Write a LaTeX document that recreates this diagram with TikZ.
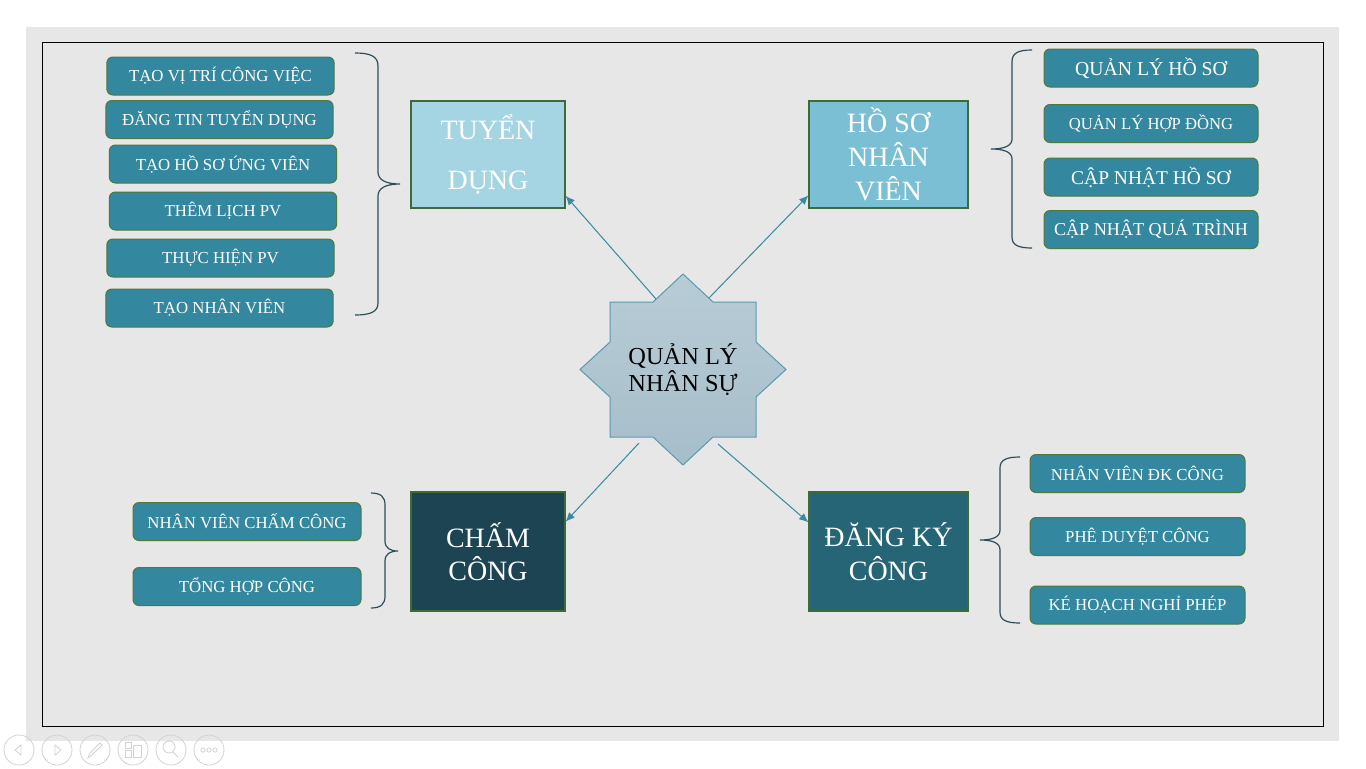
\documentclass[tikz,border=0pt]{standalone}
\usepackage{fontspec}
\setmainfont{Liberation Serif}
\usepackage{xcolor}
\usetikzlibrary{arrows.meta}
\definecolor{CE7E7E7}{HTML}{E7E7E7}
\definecolor{C33879E}{HTML}{33879E}
\definecolor{C4E7A3C}{HTML}{4E7A3C}
\definecolor{C3D6B35}{HTML}{3D6B35}
\definecolor{CA5D5E3}{HTML}{A5D5E3}
\definecolor{C7ABFD4}{HTML}{7ABFD4}
\definecolor{C1C4452}{HTML}{1C4452}
\definecolor{C266576}{HTML}{266576}
\definecolor{C3A8AA2}{HTML}{3A8AA2}
\definecolor{C2E4D5A}{HTML}{2E4D5A}
\definecolor{CB8CCD6}{HTML}{B8CCD6}
\definecolor{CA6BECA}{HTML}{A6BECA}
\definecolor{C5A9AB0}{HTML}{5A9AB0}
\definecolor{CD2D2D2}{HTML}{D2D2D2}

\begin{document}
\begin{tikzpicture}[x=0.75pt,y=-0.75pt,inner sep=0pt,
  item/.style={minimum height=28.5pt, fill=C33879E, draw=C4E7A3C, line width=0.75pt, rounded corners=4.5pt, align=center, text=white},
  head/.style={draw=C3D6B35, line width=0.8pt, align=center, text=white},
  link/.style={-{Latex[length=7pt,width=6pt]}, line width=0.75pt, draw=C3A8AA2, fill=C3A8AA2},
  bracket/.style={line width=0.9pt, draw=C2E4D5A},
  ctrl/.style={line width=0.6pt, draw=CD2D2D2}]

% slide
\path [use as bounding box, fill=white] (0,0) rectangle (1366,768);
\fill [CE7E7E7] (26,27) rectangle (1339,741);
\draw [black, line width=0.75pt] (42,42) rectangle (1323,726);

% centre star
\path [top color=CB8CCD6, bottom color=CA6BECA, draw=C5A9AB0, line width=0.75pt] (683,274) -- (713,302) -- (756,302) -- (756,342) -- (786,369.5) -- (756,397) -- (756,437) -- (713,437) -- (683,465) -- (653,437) -- (610,437) -- (610,397) -- (580,369.5) -- (610,342) -- (610,302) -- (653,302) -- cycle;
\node (n0) [at={(683,369.5)}, align=center, font=\fontsize{18.3}{20.25}\selectfont] {QUẢN LÝ\\NHÂN SỰ};

\node (n1) [head, minimum width=115.5pt, minimum height=80.25pt, at={(488,154.5)}, fill=CA5D5E3, font=\fontsize{21}{37.5}\selectfont] {TUYỂN\\DỤNG};
\node (n2) [head, minimum width=119.25pt, minimum height=80.25pt, at={(888.5,154.5)}, fill=C7ABFD4, font=\fontsize{21}{25.5}\selectfont] {HỒ SƠ\\NHÂN\\VIÊN};
\node (n3) [head, minimum width=115.5pt, minimum height=89.25pt, at={(488,551.5)}, fill=C1C4452, font=\fontsize{21}{25}\selectfont] {CHẤM\\CÔNG};
\node (n4) [head, minimum width=119.25pt, minimum height=89.25pt, at={(888.5,551.5)}, fill=C266576, font=\fontsize{21}{25}\selectfont] {ĐĂNG KÝ\\CÔNG};

\node (n11) [item, minimum width=170.5pt, at={(220.5,76)}, font=\fontsize{12.6}{15}\selectfont] {TẠO VỊ TRÍ CÔNG VIỆC};
\node (n12) [item, minimum width=170.5pt, at={(219.5,119.5)}, font=\fontsize{12.6}{15}\selectfont] {ĐĂNG TIN TUYỂN DỤNG};
\node (n13) [item, minimum width=170.5pt, at={(223,164)}, font=\fontsize{12.6}{15}\selectfont] {TẠO HỒ SƠ ỨNG VIÊN};
\node (n14) [item, minimum width=170.5pt, at={(223,211)}, font=\fontsize{12.6}{15}\selectfont] {THÊM LỊCH PV};
\node (n15) [item, minimum width=170.5pt, at={(220.5,258)}, font=\fontsize{12.6}{15}\selectfont] {THỰC HIỆN PV};
\node (n16) [item, minimum width=170.5pt, at={(219.5,308)}, font=\fontsize{12.6}{15}\selectfont] {TẠO NHÂN VIÊN};

\node (n21) [item, minimum width=160.5pt, at={(1151,68)}, font=\fontsize{14.8}{17}\selectfont] {QUẢN LÝ HỒ SƠ};
\node (n22) [item, minimum width=160.5pt, at={(1151,123.5)}, font=\fontsize{12.5}{15}\selectfont] {QUẢN LÝ HỢP ĐỒNG};
\node (n23) [item, minimum width=160.5pt, at={(1151,177)}, font=\fontsize{14.6}{17}\selectfont] {CẬP NHẬT HỒ SƠ};
\node (n24) [item, minimum width=160.5pt, at={(1151,229.5)}, font=\fontsize{13.6}{16}\selectfont] {CẬP NHẬT QUÁ TRÌNH};

\node (n31) [item, minimum width=171pt, at={(247,521.5)}, font=\fontsize{12.6}{15}\selectfont] {NHÂN VIÊN CHẤM CÔNG};
\node (n32) [item, minimum width=171pt, at={(247,586.5)}, font=\fontsize{12.6}{15}\selectfont] {TỔNG HỢP CÔNG};

\node (n41) [item, minimum width=161.25pt, at={(1137.5,473.5)}, font=\fontsize{12.6}{15}\selectfont] {NHÂN VIÊN ĐK CÔNG};
\node (n42) [item, minimum width=161.25pt, at={(1137.5,536.5)}, font=\fontsize{12.6}{15}\selectfont] {PHÊ DUYỆT CÔNG};
\node (n43) [item, minimum width=161.25pt, at={(1137.5,605)}, font=\fontsize{12.6}{15}\selectfont] {KÉ HOẠCH NGHỈ PHÉP};

% arrows out of the star
\coordinate (a1) at (656,299);
\coordinate (a2) at (709,298);
\coordinate (a3) at (639,443);
\coordinate (a4) at (718,444);
\path [link] (a1) -- (n1.-28);
\path [link] (a2) -- (n2.-153);
\path [link] (a3) -- (n3.21);
\path [link] (a4) -- (n4.160);

% braces
\path [bracket] (355,53) .. controls (370,53) and (378,56) .. (378,66) -- (378,172) .. controls (378,180) and (386,184) .. (400,184) .. controls (386,184) and (378,188) .. (378,196) -- (378,303) .. controls (378,312) and (370,315) .. (355,315);
\path [bracket] (1032,50) .. controls (1018,50) and (1012,53) .. (1012,62) -- (1012,139) .. controls (1012,146) and (1004,149) .. (991,149) .. controls (1004,149) and (1012,152) .. (1012,159) -- (1012,237) .. controls (1012,245) and (1018,248) .. (1032,248);
\path [bracket] (371,493) .. controls (381,493) and (385,497) .. (385,505) -- (385,541) .. controls (385,548) and (390,551) .. (398,551) .. controls (390,551) and (385,554) .. (385,561) -- (385,596) .. controls (385,604) and (381,608) .. (371,608);
\path [bracket] (1020,457) .. controls (1006,457) and (1000,460) .. (1000,468) -- (1000,530) .. controls (1000,537) and (993,540) .. (980,540) .. controls (993,540) and (1000,543) .. (1000,550) -- (1000,612) .. controls (1000,620) and (1006,623) .. (1020,623);

% slide show controls
\foreach \cx in {19,57,95,133,171,209}
  \draw [ctrl] (\cx,750) circle [radius=11.25pt];
\draw [ctrl] (15,750) -- (21,745) -- (21,755) -- cycle;
\draw [ctrl] (55,745) -- (61,750) -- (55,755) -- cycle;
\draw [ctrl] (88,758) -- (90,753) -- (100,743) -- (102,745) -- (92,755) -- cycle;
\draw [ctrl] (125,742) rectangle (131,748) (125,750) rectangle (131,757) (133,745) rectangle (141,757);
\draw [ctrl] (169,747) circle [radius=4.5pt] (173,752) -- (178,757);
\foreach \cx in {203,209,215}
  \draw [ctrl] (\cx,750) circle [radius=1.6pt];
\end{tikzpicture}
\end{document}
